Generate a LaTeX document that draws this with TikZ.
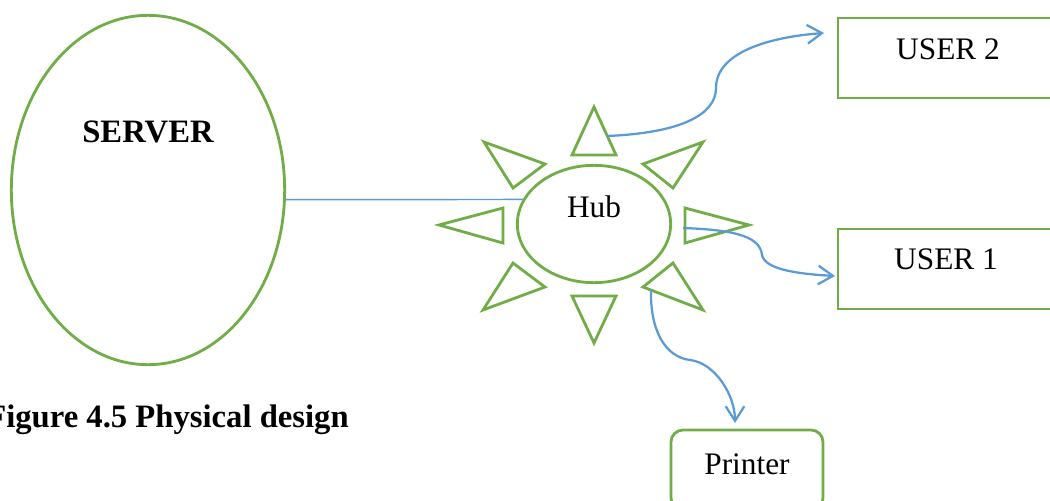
\documentclass[tikz,border=0pt]{standalone}
\usepackage{fontspec}
\setmainfont{Liberation Serif}
\usepackage{tikz}
\usetikzlibrary{shapes.geometric,arrows.meta}
\definecolor{hubgreen}{RGB}{112,173,71}
\definecolor{linkblue}{RGB}{91,155,213}
\tikzstyle{oval} = [ellipse,
                    draw=hubgreen,
                                        line width=2.1pt]
\tikzstyle{userbox} = [rectangle,
                       draw=hubgreen,
                                              line width=2.1pt,
                                                                     minimum width=165pt,
                                                                                            minimum height=60pt]
\tikzstyle{spike} = [draw=hubgreen,
                     line width=2.1pt,
                                          line join=miter]
\tikzstyle{link} = [draw=linkblue,
                    line width=1.7pt,
                                        -{Straight Barb[length=11pt,width=14pt]}]
\tikzstyle{wire} = [draw=linkblue,
                    line width=1.1pt]
\tikzstyle{lbl} = [font=\fontsize{23.5}{27}\selectfont, inner sep=0pt]
\tikzstyle{boldlbl} = [font=\fontsize{24.5}{28}\selectfont\bfseries, inner sep=0pt]

\begin{document}
\begin{tikzpicture}[x=0.75pt,y=-0.75pt]
\useasboundingbox (0,0) rectangle (1050,500);
% server and hub
\node (server) [oval, minimum width=205pt, minimum height=262pt] at (148,190) {};
\node (servertxt) [boldlbl] at (148,132) {SERVER};
\node (hub) [oval, minimum width=115pt, minimum height=88pt] at (594,224) {};
\node (hubtxt) [lbl] at (594,207) {Hub};
% spikes round the hub
\draw[spike] (594,107) -- (572,155) -- (616,155) -- cycle;
\draw[spike] (484,142) -- (545,164) -- (513,188) -- cycle;
\draw[spike] (703,142) -- (643,164) -- (673,188) -- cycle;
\draw[spike] (439,225) -- (503,208) -- (503,243) -- cycle;
\draw[spike] (749,225) -- (685,208) -- (685,243) -- cycle;
\draw[spike] (483,310) -- (513,263) -- (545,287) -- cycle;
\draw[spike] (703,310) -- (673,263) -- (643,287) -- cycle;
\draw[spike] (594,343) -- (572,296) -- (616,296) -- cycle;
% devices
\node (user2) [userbox] at (948,58) {};
\node (user2txt) [lbl] at (948,49) {USER 2};
\node (user1) [userbox] at (948,269) {};
\node (user1txt) [lbl] at (946,259) {USER 1};
\node (printer) [userbox, rounded corners=9pt, minimum width=114pt] at (747,470) {};
\node (printertxt) [lbl] at (747,464) {Printer};
\node (caption) [boldlbl, anchor=base east] at (349,427) {Figure 4.5 Physical design};
% connectors
\coordinate (out2) at (607,136);
\coordinate (in2) at (824,33);
\coordinate (out1) at (683,228);
\coordinate (in1) at (835,276);
\coordinate (outp) at (651,290);
\coordinate (inp) at (735,423);
\draw[wire] (server.-4.2) -- (hub.161);
\draw[link] (out2) .. controls (680,133) and (716,115) .. (716,88) .. controls (716,52) and (770,37) .. (in2);
\draw[link] (out1) .. controls (740,230) and (760,238) .. (762,255) .. controls (765,270) and (800,274) .. (in1);
\draw[link] (outp) .. controls (650,330) and (665,357) .. (690,360) .. controls (715,363) and (735,395) .. (inp);
\end{tikzpicture}
\end{document}
